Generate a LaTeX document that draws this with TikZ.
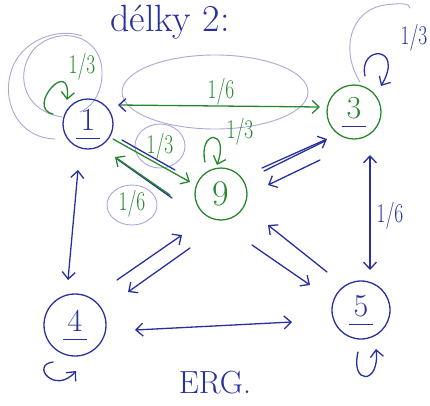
\documentclass[tikz,border=0pt]{standalone}
\usetikzlibrary{arrows.meta}
\definecolor{penblue}{RGB}{40,48,158}
\definecolor{pengreen}{RGB}{38,135,45}
\definecolor{penlight}{RGB}{168,168,218}
% cislo stavu s podtrzenim
\newcommand{\stav}[1]{\underline{\makebox[0.75em]{#1\vphantom{g}}}}
% uzky zlomek u hran
\newcommand{\zlomek}[2]{\scalebox{0.72}[1]{#1/#2}}
\begin{document}
\begin{tikzpicture}
  [x=1pt, y=-1pt, line cap=round, line join=round,
   >={Straight Barb[length=7pt,width=13pt]},
   uzel/.style = {circle, draw=#1, line width=1.3pt, inner sep=0pt,
                  text=penblue, font=\fontsize{32}{32}\selectfont},
   modre/.style = {draw=penblue, line width=1.3pt},
   zelene/.style = {draw=pengreen, line width=1.3pt},
   obrys/.style = {draw=penlight, line width=0.9pt},
   popis/.style = {inner sep=0pt, font=\fontsize{27}{27}\selectfont}]
  \useasboundingbox (0,0) rectangle (430,405);
  % nadpis
  \node[anchor=base, text=penblue, font=\fontsize{38}{38}\selectfont] (nadpis) at (170,31) {délky 2:};
  % obrysy kolem smycek a popisku
  \draw[obrys] (55,139) .. controls (15,138) and (-2,95) .. (15,62)
                        .. controls (28,38) and (60,28) .. (82,36);
  \draw[obrys] (62,117) .. controls (20,110) and (15,70) .. (35,48)
                        .. controls (60,25) and (100,35) .. (102,70)
                        .. controls (103,95) and (90,108) .. (80,112);
  \draw[obrys] (215,92) ellipse (93 and 37);
  \draw[obrys] (360,82) .. controls (340,50) and (350,10) .. (385,5)
                        .. controls (400,3) and (410,3) .. (410,8);
  \draw[obrys] (160,146) ellipse (25 and 22);
  \draw[obrys] (132,205) ellipse (25 and 20);
  % stavy
  \node[uzel=penblue, minimum size=50pt] (n1) at (88,124) {\stav{1}};
  \node[uzel=pengreen, minimum size=54pt] (n3) at (354,112) {\stav{\textcolor{pengreen}{3}}};
  \node[uzel=pengreen, minimum size=52pt, text=pengreen,
        font=\fontsize{36}{36}\selectfont] (n9) at (221,194) {9};
  \node[uzel=penblue, minimum size=62pt] (n4) at (75,325) {\stav{4}};
  \node[uzel=penblue, minimum size=58pt] (n5) at (361,310) {\stav{5}};
  % prechody
  \draw[zelene, {Straight Barb[length=7pt,width=13pt,color=penblue]}-{Straight Barb[length=7pt,width=13pt]}]
    ([shift={(30,-19)}]n1.center) -- ([shift={(-34,-5)}]n3.center);
  \draw[modre] ([shift={(34,16)}]n1.center) -- ([shift={(-46,-24)}]n9.center);
  \draw[zelene, ->] ([shift={(25,15)}]n1.center) -- ([shift={(-31,-12)}]n9.center);
  \draw[modre] ([shift={(-49,4)}]n9.center) -- ([shift={(29,35)}]n1.center);
  \draw[zelene, ->] ([shift={(-51,1)}]n9.center) -- ([shift={(27,33)}]n1.center);
  \draw[modre] ([shift={(43,-23)}]n9.center) -- ([shift={(-29,29)}]n3.center);
  \draw[modre, ->] ([shift={(41,-26)}]n9.center) -- ([shift={(-27,27)}]n3.center);
  \draw[modre, ->] ([shift={(-34,48)}]n3.center) -- ([shift={(47,-9)}]n9.center);
  \draw[modre, <->] ([shift={(16,43)}]n3.center) -- ([shift={(9,-40)}]n5.center);
  \draw[modre, ->] ([shift={(31,51)}]n9.center) -- ([shift={(-51,-25)}]n5.center);
  \draw[modre, ->] ([shift={(-34,-38)}]n5.center) -- ([shift={(47,31)}]n9.center);
  \draw[modre, ->] ([shift={(42,-45)}]n4.center) -- ([shift={(-39,41)}]n9.center);
  \draw[modre, ->] ([shift={(-31,54)}]n9.center) -- ([shift={(53,-33)}]n4.center);
  \draw[modre, <->] ([shift={(-10,46)}]n1.center) -- ([shift={(-7,-45)}]n4.center);
  \draw[modre, <->] ([shift={(60,5)}]n4.center) -- ([shift={(-69,12)}]n5.center);
  % smycky
  \draw[zelene, ->] ([shift={(-35,-10)}]n1.center) .. controls +(-28,-6) and +(5,-45) .. ([shift={(-21,-24)}]n1.center);
  \draw[zelene, ->] ([shift={(-16,-32)}]n9.center) .. controls +(-7,-32) and +(13,-37) .. ([shift={(-4,-29)}]n9.center);
  \draw[modre, ->] ([shift={(11,-36)}]n3.center) .. controls +(-7,-31) and +(24,-41) .. ([shift={(27,-26)}]n3.center);
  \draw[modre, ->] ([shift={(-22,37)}]n4.center) .. controls +(-23,3) and +(-21,24) .. ([shift={(1,46)}]n4.center);
  \draw[modre, ->] ([shift={(-3,42)}]n5.center) .. controls +(-8,33) and +(4,36) .. ([shift={(15,39)}]n5.center);
  % pravdepodobnosti
  \node[popis, text=pengreen] (p11) at (82,67) {\zlomek{1}{3}};
  \node[popis, text=pengreen] (p13) at (221,92) {\zlomek{1}{6}};
  \node[popis, text=pengreen] (p19) at (160,147) {\zlomek{1}{3}};
  \node[popis, text=pengreen] (p91) at (132,204) {\zlomek{1}{6}};
  \node[popis, text=pengreen] (p99) at (240,132) {\zlomek{1}{3}};
  \node[popis, text=penblue] (p33) at (414,38) {\zlomek{1}{3}};
  \node[popis, text=penblue] (p35) at (390,216) {\zlomek{1}{6}};
  % zaver
  \node[anchor=base, text=penblue, font=\fontsize{32}{32}\selectfont] (erg) at (215,393) {ERG.};
\end{tikzpicture}
\end{document}
